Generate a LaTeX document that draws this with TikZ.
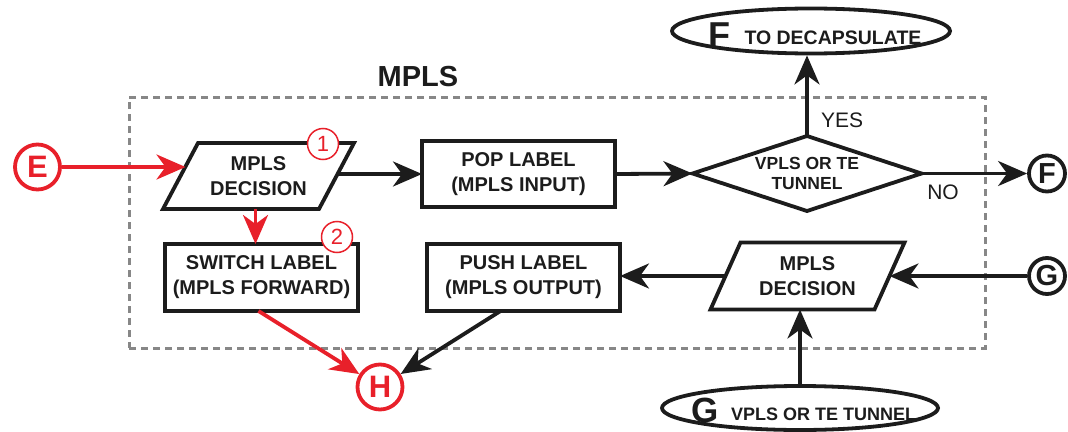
\documentclass[tikz,border=0pt]{standalone}
\usepackage{fontspec}
\setmainfont{Liberation Sans}
\usetikzlibrary{arrows.meta,shapes.geometric,calc}
\definecolor{rd}{RGB}{232,32,42}
\definecolor{frm}{RGB}{135,135,135}
\definecolor{ink}{RGB}{28,28,28}
\begin{document}
\begin{tikzpicture}[x=1pt,y=-1pt,
  holder/.style={inner sep=0pt,outer sep=0pt,align=center,text=ink,
     font=\fontsize{20}{25}\selectfont\bfseries},
  boxnode/.style={holder,draw=ink,line width=3.8pt,minimum width=193pt,minimum height=66pt},
  outline/.style={draw=ink,line width=3.8pt,line join=miter},
  arr/.style={draw=ink,line width=3.8pt,-{Stealth[length=29pt,width=25pt,inset=9pt]}},
  rarr/.style={arr,draw=rd},
  term/.style={circle,draw=ink,line width=3.8pt,minimum size=36pt,inner sep=0pt,
     text=ink,font=\fontsize{29}{29}\selectfont\bfseries},
  rterm/.style={term,draw=rd,text=rd,minimum size=45pt,font=\fontsize{31}{31}\selectfont\bfseries},
  numc/.style={circle,draw=rd,fill=white,line width=1.5pt,minimum size=31pt,inner sep=0pt,
     text=rd,font=\fontsize{22}{22}\selectfont},
  ell/.style={ellipse,draw=ink,line width=3.8pt,inner sep=0pt},
  elltext/.style={inner sep=0pt,text=ink,font=\fontsize{18}{18}\selectfont\bfseries},
  yn/.style={inner sep=0pt,text=ink,font=\fontsize{21}{21}\selectfont}
]
\useasboundingbox (0,0) rectangle (1068,431);

% dashed frame and title
\node[draw=frm,line width=3pt,dash pattern=on 7pt off 5pt,minimum width=856pt,minimum height=251pt,inner sep=0pt] (frame) at (557,222.5) {};
\node[inner sep=0pt,text=ink,font=\fontsize{29}{29}\selectfont\bfseries] (title) at (418,77) {MPLS};

% decision 1 (parallelogram)
\node[holder,minimum width=156pt,minimum height=66pt] (d1) at (258.5,176) {MPLS\\DECISION};
\draw[outline] ($(d1.south west)+(-17.5,0)$) -- ($(d1.south east)+(-17.5,0)$) -- ($(d1.north east)+(17.5,0)$) -- ($(d1.north west)+(17.5,0)$) -- cycle;

% boxes
\node[boxnode] (pop) at (518.5,174) {POP LABEL\\(MPLS INPUT)};
\node[boxnode,minimum height=67pt] (sw) at (261.5,277.5) {SWITCH LABEL\\(MPLS FORWARD)};
\node[boxnode,minimum height=67pt] (push) at (523.5,277.5) {PUSH LABEL\\(MPLS OUTPUT)};

% diamond
\node[holder,minimum width=229pt,minimum height=75pt,font=\fontsize{17.5}{20}\selectfont\bfseries] (dm) at (807,173.5) {VPLS OR TE\\TUNNEL};
\draw[outline] (dm.west) -- (dm.north) -- (dm.east) -- (dm.south) -- cycle;

% decision 2 (parallelogram)
\node[holder,minimum width=164pt,minimum height=67pt] (d2) at (807.5,276) {MPLS\\DECISION};
\draw[outline] ($(d2.south west)+(-15,0)$) -- ($(d2.south east)+(-15,0)$) -- ($(d2.north east)+(15,0)$) -- ($(d2.north west)+(15,0)$) -- cycle;

% ellipses
\node[ell,minimum width=278pt,minimum height=45pt] (eF) at (811,31) {};
\node[elltext,font=\fontsize{19.5}{19.5}\selectfont\bfseries] (eFt) at ($(eF.center)+(4,4)$) {{\fontsize{36}{36}\selectfont F}\hspace{14pt}\raisebox{3pt}{TO DECAPSULATE}};
\node[ell,minimum width=276pt,minimum height=44pt] (eG) at (800,408) {};
\node[elltext] (eGt) at ($(eG.center)+(4,2)$) {{\fontsize{35}{35}\selectfont G}\hspace{12pt}\raisebox{2pt}{VPLS OR TE TUNNEL}};

% terminals
\node[rterm] (E) at (37.5,167) {E};
\node[rterm] (H) at (380,387) {H};
\node[term] (F) at (1047,173.5) {F};
\node[term] (G) at (1047,276) {G};

% numbered markers
\node[numc] (n1) at (323,144) {1};
\node[numc] (n2) at (337,237) {2};

% labels
\node[yn] (yes) at (842,120) {YES};
\node[yn] (no) at (943,192) {NO};

% connectors
\draw[rarr] (E) -- ($(E -| d1.west)+(5,0)$);
\draw[arr] (d1.east |- pop.west) -- (pop.west);
\draw[arr] (pop.east) -- (dm.west);
\draw[arr] (dm.north) -- (dm.north |- eF.south);
\draw[arr] (dm.east) -- (F);
\draw[rarr] ($(d1.south)+(-3,0)$) -- ($(d1.south |- sw.north)+(-3,0)$);
\draw[rarr] ($(sw.south)+(-3,0)$) -- (H);
\draw[arr] ($(push.south)+(-23,0)$) -- (H);
\draw[arr] (G) -- (d2.east);
\draw[arr] (d2.west) -- (d2.west -| push.east);
\draw[arr] (eG.north) -- (eG.north |- d2.south);
\end{tikzpicture}
\end{document}
